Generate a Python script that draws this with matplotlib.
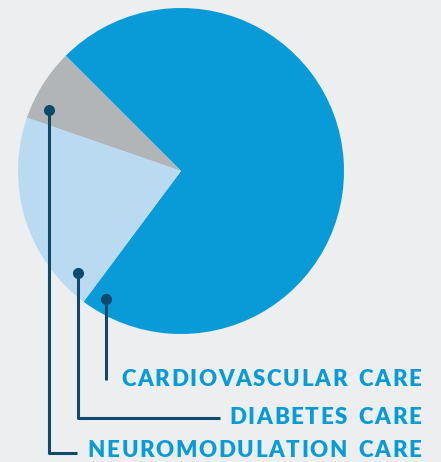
import numpy as np
import matplotlib
matplotlib.use('Agg')
import matplotlib.pyplot as plt

# slice data (percent), in counter-clockwise order from the start angle
labels = ['CARDIOVASCULAR CARE', 'NEUROMODULATION CARE', 'DIABETES CARE']
shares = [72.7, 7.2, 20.1]
colors = ['#089BD8', '#B1B5B8', '#BADAF1']

# leader lines: dot position then path points (pixels, image coords)
leaders = {
    'CARDIOVASCULAR CARE': [(106, 299), (106, 380)],
    'DIABETES CARE': [(78, 273), (78, 418), (220, 418)],
    'NEUROMODULATION CARE': [(49, 110), (49, 453), (77, 453)],
}
label_baseline = {'CARDIOVASCULAR CARE': 386, 'DIABETES CARE': 424,
                  'NEUROMODULATION CARE': 457}

bg = '#ECEEF0'
dark = '#0D4A6B'
W, H = 441, 462

fig = plt.figure(figsize=(W / 100, H / 100), dpi=100, facecolor=bg)

# pie axes: centre (181,171), radius 163 px
cx, cy, r = 181, 171, 163
ax = fig.add_axes([(cx - r) / W, (H - cy - r) / H, 2 * r / W, 2 * r / H])
ax.pie(shares, colors=colors, startangle=233.3, counterclock=True,
       radius=1, wedgeprops=dict(linewidth=0))
ax.set_xlim(-1, 1)
ax.set_ylim(-1, 1)
ax.set_aspect('equal')
ax.axis('off')

# overlay in pixel coords
ov = fig.add_axes([0, 0, 1, 1])
ov.set_xlim(0, W)
ov.set_ylim(H, 0)
ov.axis('off')
ov.patch.set_alpha(0)

for name, pts in leaders.items():
    xs = [p[0] for p in pts]
    ys = [p[1] for p in pts]
    ov.plot(xs, ys, color=dark, lw=2.2, solid_joinstyle='round',
            solid_capstyle='butt')
    ov.plot(xs[0], ys[0], 'o', color=dark, ms=8, mew=0)

# tracked (letter-spaced) text, right aligned at x=421
renderer = fig.canvas.get_renderer()
fsize = 16
tracking = 1.6
fam = ['Lato', 'DejaVu Sans']


def draw_tracked(text, x_right, y_base):
    widths = []
    for ch in text:
        t = ov.text(0, 0, ch if ch != ' ' else 'I', fontsize=fsize,
                    family=fam, weight='heavy')
        w = t.get_window_extent(renderer).width
        if ch == ' ':
            w = w * 1.2
        widths.append(w)
        t.remove()
    total = sum(widths) + tracking * (len(text) - 1)
    x = x_right - total
    for ch, w in zip(text, widths):
        if ch != ' ':
            ov.text(x, y_base, ch, fontsize=fsize, color='#089BD8',
                    family=fam, weight='heavy',
                    ha='left', va='baseline')
        x += w + tracking


for name in labels:
    draw_tracked(name, 421, label_baseline[name])

fig.savefig('out.png', dpi=100, facecolor=bg)
